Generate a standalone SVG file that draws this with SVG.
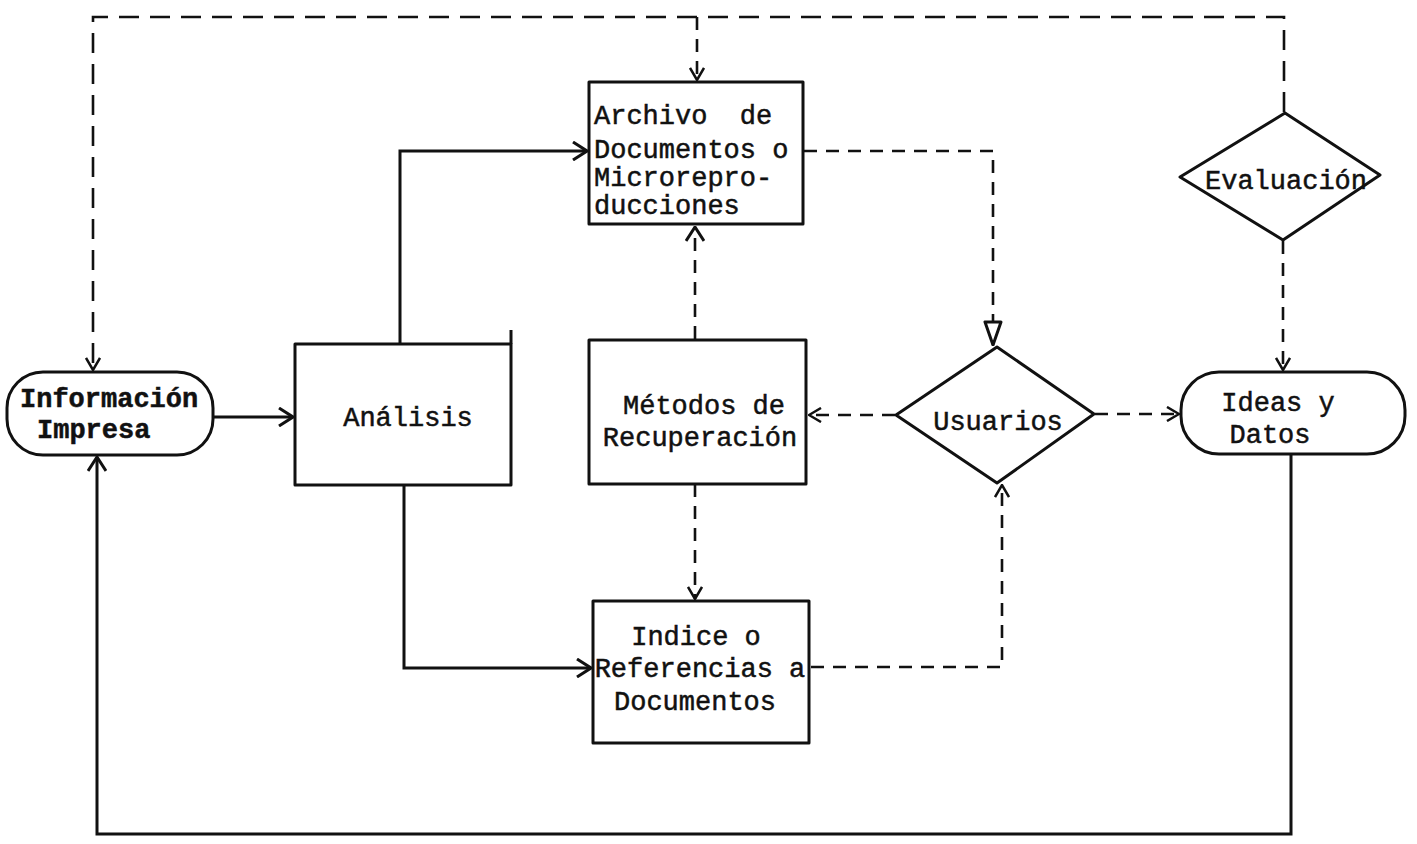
<svg xmlns="http://www.w3.org/2000/svg" width="1417" height="844" viewBox="0 0 1417 844">
  <style>
    .shape { fill: #fff; stroke: #111; stroke-width: 3; stroke-linejoin: round; }
    .txt { font-family: "Liberation Mono", "Courier New", monospace; font-size: 27px; fill: #111; stroke: #111; stroke-width: 0.5; }
    .bold { font-weight: bold; }
    .solid { fill: none; stroke: #111; stroke-width: 3; stroke-linejoin: miter; }
    .dash { fill: none; stroke: #111; stroke-width: 2.6; stroke-dasharray: 20 11; }
    .dash-s { fill: none; stroke: #111; stroke-width: 2.6; stroke-dasharray: 13 9; }
  </style>
  <defs>
    <marker id="chev" viewBox="0 0 16 20" refX="15" refY="10" markerWidth="16" markerHeight="20" markerUnits="userSpaceOnUse" orient="auto">
      <path d="M1,1 L15,10 L1,19" fill="none" stroke="#111" stroke-width="3" stroke-linejoin="miter"/>
    </marker>
    <marker id="chev-s" viewBox="0 0 14 16" refX="13" refY="8" markerWidth="14" markerHeight="16" markerUnits="userSpaceOnUse" orient="auto">
      <path d="M1,1 L13,8 L1,15" fill="none" stroke="#111" stroke-width="2.5"/>
    </marker>
    <marker id="tri" viewBox="0 0 26 20" refX="25" refY="10" markerWidth="26" markerHeight="20" markerUnits="userSpaceOnUse" orient="auto">
      <path d="M2,2 L25,10 L2,18 Z" fill="#fff" stroke="#111" stroke-width="3" stroke-linejoin="round"/>
    </marker>
  </defs>
  <rect width="1417" height="844" fill="#fff"/>

  <!-- connectors -->
  <g id="connectors">
    <!-- Evaluación feedback loop across the top -->
    <path class="dash" d="M1284,112 V17 H93 V370" marker-end="url(#chev-s)"/>
    <path class="dash-s" d="M697,17 V80" marker-end="url(#chev-s)"/>
    <!-- Evaluación to Ideas y Datos -->
    <path class="dash-s" d="M1283,241 V370" marker-end="url(#chev-s)"/>
    <!-- Información Impresa to Análisis -->
    <path class="solid" d="M213,417 H293" marker-end="url(#chev)"/>
    <!-- Análisis to Archivo -->
    <path class="solid" d="M400,343 V151 H587" marker-end="url(#chev)"/>
    <!-- Análisis to Indice -->
    <path class="solid" d="M404,486 V668 H591" marker-end="url(#chev)"/>
    <!-- Métodos to Archivo -->
    <path class="dash-s" d="M695,339 V227" marker-end="url(#chev)"/>
    <!-- Métodos to Indice -->
    <path class="dash-s" d="M695,484 V599" marker-end="url(#chev-s)"/>
    <!-- Archivo to Usuarios -->
    <path class="dash-s" d="M804,151 H993 V345" marker-end="url(#tri)"/>
    <!-- Usuarios to Métodos -->
    <path class="dash-s" d="M895,415 H809" marker-end="url(#chev-s)"/>
    <!-- Usuarios to Ideas y Datos -->
    <path class="dash-s" d="M1095,414 H1179" marker-end="url(#chev-s)"/>
    <!-- Indice to Usuarios -->
    <path class="dash-s" d="M811,667 H1002 V485" marker-end="url(#chev-s)"/>
    <!-- Ideas y Datos back to Información Impresa -->
    <path class="solid" d="M1291,440 V834 H97 V457" marker-end="url(#chev)"/>
  </g>

  <g id="informacion">
    <rect class="shape" x="7" y="372" width="206" height="83" rx="36" ry="36"/>
    <text class="txt bold" x="20" y="407">Información</text>
    <text class="txt bold" x="37" y="438">Impresa</text>
  </g>

  <g id="analisis">
    <path class="shape" d="M295,344 H511 V485 H295 Z"/>
    <path class="solid" d="M511,344 V330"/>
    <text class="txt" x="408" y="426" text-anchor="middle">Análisis</text>
  </g>

  <g id="archivo">
    <rect class="shape" x="589" y="82" width="214" height="142"/>
    <text class="txt" x="594" y="124" xml:space="preserve">Archivo  de</text>
    <text class="txt" x="594" y="158">Documentos o</text>
    <text class="txt" x="594" y="186">Microrepro-</text>
    <text class="txt" x="594" y="214">ducciones</text>
  </g>

  <g id="metodos">
    <rect class="shape" x="589" y="340" width="217" height="144"/>
    <text class="txt" x="704" y="414" text-anchor="middle">Métodos de</text>
    <text class="txt" x="700" y="446" text-anchor="middle">Recuperación</text>
  </g>

  <g id="indice">
    <rect class="shape" x="593" y="601" width="216" height="142"/>
    <text class="txt" x="696" y="645" text-anchor="middle">Indice o</text>
    <text class="txt" x="700" y="677" text-anchor="middle">Referencias a</text>
    <text class="txt" x="695" y="710" text-anchor="middle">Documentos</text>
  </g>

  <g id="usuarios">
    <path class="shape" d="M997,347 L1094,414 L997,483 L896,415 Z"/>
    <text class="txt" x="998" y="430" text-anchor="middle">Usuarios</text>
  </g>

  <g id="evaluacion">
    <path class="shape" d="M1285,113 L1380,175 L1283,240 L1180,177 Z"/>
    <text class="txt" x="1286" y="189" text-anchor="middle">Evaluación</text>
  </g>

  <g id="ideas">
    <rect class="shape" x="1181" y="372" width="224" height="82" rx="38" ry="38"/>
    <text class="txt" x="1278" y="411" text-anchor="middle">Ideas y</text>
    <text class="txt" x="1270" y="443" text-anchor="middle">Datos</text>
  </g>
</svg>
